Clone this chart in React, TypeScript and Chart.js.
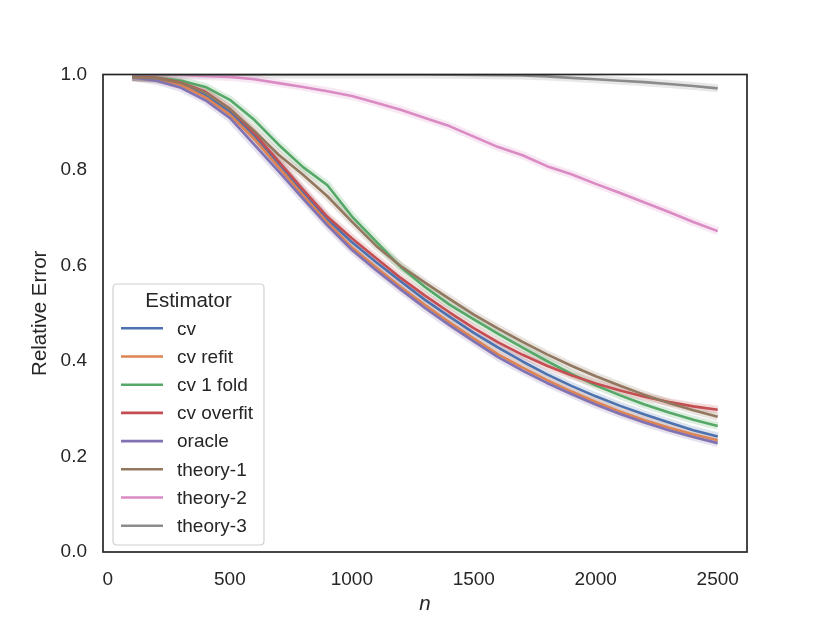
import React, { useEffect, useRef } from "react";
import { Chart, registerables } from "chart.js";

Chart.register(...registerables);

// ---- data ----
const nValues = [100, 200, 300, 400, 500, 600, 700, 800, 900, 1000, 1100, 1200, 1300, 1400, 1500, 1600, 1700, 1800, 1900, 2000, 2100, 2200, 2300, 2400, 2500];

const cv = [0.995, 0.991, 0.98, 0.956, 0.922, 0.872, 0.813, 0.754, 0.697, 0.649, 0.607, 0.567, 0.528, 0.493, 0.459, 0.428, 0.399, 0.372, 0.348, 0.326, 0.306, 0.288, 0.271, 0.255, 0.242];
const cvRefit = [0.995, 0.99, 0.978, 0.952, 0.916, 0.865, 0.806, 0.747, 0.69, 0.638, 0.596, 0.555, 0.517, 0.481, 0.447, 0.414, 0.386, 0.36, 0.336, 0.314, 0.294, 0.276, 0.26, 0.246, 0.234];
const cv1Fold = [0.995, 0.993, 0.987, 0.974, 0.947, 0.905, 0.853, 0.806, 0.768, 0.703, 0.65, 0.597, 0.555, 0.518, 0.487, 0.457, 0.428, 0.4, 0.373, 0.349, 0.328, 0.309, 0.292, 0.277, 0.264];
const cvOverfit = [0.995, 0.993, 0.983, 0.964, 0.928, 0.877, 0.818, 0.759, 0.702, 0.657, 0.615, 0.574, 0.537, 0.502, 0.469, 0.439, 0.413, 0.39, 0.37, 0.353, 0.338, 0.325, 0.314, 0.305, 0.298];
const oracle = [0.994, 0.987, 0.972, 0.946, 0.909, 0.853, 0.797, 0.74, 0.684, 0.633, 0.59, 0.55, 0.511, 0.475, 0.441, 0.408, 0.38, 0.354, 0.331, 0.309, 0.289, 0.271, 0.255, 0.241, 0.228];
const theory1 = [0.994, 0.992, 0.982, 0.962, 0.928, 0.882, 0.832, 0.79, 0.745, 0.692, 0.641, 0.599, 0.564, 0.53, 0.497, 0.468, 0.44, 0.414, 0.39, 0.368, 0.348, 0.329, 0.312, 0.297, 0.283];
const theory2 = [1.0, 0.9995, 0.999, 0.997, 0.995, 0.99, 0.982, 0.974, 0.965, 0.955, 0.941, 0.926, 0.909, 0.892, 0.87, 0.848, 0.831, 0.808, 0.791, 0.771, 0.752, 0.732, 0.712, 0.691, 0.672];
const theory3 = [1.0, 1.0, 1.0, 1.0, 1.0, 1.0, 1.0, 1.0, 1.0, 1.0, 1.0, 1.0, 1.0, 0.9995, 0.999, 0.9985, 0.998, 0.996, 0.993, 0.99, 0.987, 0.984, 0.98, 0.976, 0.971];

const seriesNames = ["cv", "cv refit", "cv 1 fold", "cv overfit", "oracle", "theory-1", "theory-2", "theory-3"];
const seriesValues = [cv, cvRefit, cv1Fold, cvOverfit, oracle, theory1, theory2, theory3];
const seriesColors = ["#4C72B0", "#DD8452", "#55A868", "#C44E52", "#8172B3", "#937860", "#DA8BC3", "#8C8C8C"];

const xTicks = [0, 500, 1000, 1500, 2000, 2500];
const yTicks = [0, 0.2, 0.4, 0.6, 0.8, 1.0];

const FONT = '"Liberation Sans", Arial, Helvetica, sans-serif';
const TEXT = "#262626";

function hexA(hex: string, a: number) {
  const r = parseInt(hex.slice(1, 3), 16);
  const g = parseInt(hex.slice(3, 5), 16);
  const b = parseInt(hex.slice(5, 7), 16);
  return `rgba(${r},${g},${b},${a})`;
}

const decorPlugin = {
  id: "decor",
  afterDatasetsDraw(chart: any) {
    const { ctx, chartArea: a } = chart;
    ctx.save();
    ctx.strokeStyle = TEXT;
    ctx.lineWidth = 1.7;
    ctx.strokeRect(a.left, a.top, a.right - a.left, a.bottom - a.top);
    ctx.restore();
  },
  afterDraw(chart: any) {
    const { ctx, chartArea: a } = chart;
    const bw = 151;
    const bh = 261;
    const bx = a.left + 10;
    const by = a.bottom - 7 - bh;
    ctx.save();
    ctx.beginPath();
    const r = 4;
    ctx.moveTo(bx + r, by);
    ctx.lineTo(bx + bw - r, by);
    ctx.quadraticCurveTo(bx + bw, by, bx + bw, by + r);
    ctx.lineTo(bx + bw, by + bh - r);
    ctx.quadraticCurveTo(bx + bw, by + bh, bx + bw - r, by + bh);
    ctx.lineTo(bx + r, by + bh);
    ctx.quadraticCurveTo(bx, by + bh, bx, by + bh - r);
    ctx.lineTo(bx, by + r);
    ctx.quadraticCurveTo(bx, by, bx + r, by);
    ctx.closePath();
    ctx.fillStyle = "rgba(255,255,255,0.8)";
    ctx.fill();
    ctx.strokeStyle = "#d0d0d0";
    ctx.lineWidth = 1.2;
    ctx.stroke();

    ctx.fillStyle = TEXT;
    ctx.textBaseline = "middle";
    ctx.textAlign = "center";
    ctx.font = `20.5px ${FONT}`;
    ctx.fillText("Estimator", bx + bw / 2, by + 17);

    ctx.textAlign = "left";
    ctx.font = `19px ${FONT}`;
    seriesNames.forEach((name, i) => {
      const y = by + 44.3 + i * 28.2;
      ctx.beginPath();
      ctx.moveTo(bx + 8, y);
      ctx.lineTo(bx + 50, y);
      ctx.strokeStyle = seriesColors[i];
      ctx.lineWidth = 2.6;
      ctx.stroke();
      ctx.fillStyle = TEXT;
      ctx.fillText(name, bx + 64, y + 1);
    });
    ctx.restore();
  },
};

export default function App() {
  const ref = useRef<HTMLCanvasElement | null>(null);

  useEffect(() => {
    if (!ref.current) return;
    const bands = seriesValues.map((vals, i) => ({
      label: seriesNames[i] + " band",
      data: nValues.map((n, j) => ({ x: n, y: vals[j] })),
      borderColor: hexA(seriesColors[i], 0.2),
      borderWidth: 8,
      pointRadius: 0,
      tension: 0,
      fill: false,
      borderJoinStyle: "round" as const,
      order: 200 - i,
    }));
    const lines = seriesValues.map((vals, i) => ({
      label: seriesNames[i],
      data: nValues.map((n, j) => ({ x: n, y: vals[j] })),
      borderColor: seriesColors[i],
      borderWidth: 2.6,
      pointRadius: 0,
      tension: 0,
      fill: false,
      borderJoinStyle: "round" as const,
      borderCapStyle: "butt" as const,
      order: 100 - i,
    }));

    const chart = new Chart(ref.current, {
      type: "line",
      data: { datasets: [...bands, ...lines] as any },
      options: {
        responsive: false,
        animation: false,
        parsing: false as any,
        layout: { padding: { left: 0, top: 74.5, right: 83, bottom: 0 } },
        plugins: {
          legend: { display: false },
          tooltip: { enabled: false },
          title: { display: false },
        },
        scales: {
          x: {
            type: "linear",
            min: -20,
            max: 2620,
            afterBuildTicks: (s: any) => {
              s.ticks = xTicks.map((v) => ({ value: v }));
            },
            afterFit: (s: any) => {
              s.height = 71;
            },
            grid: { display: false, drawTicks: false },
            border: { display: false },
            ticks: {
              padding: 16,
              color: TEXT,
              font: { family: FONT, size: 19 },
              maxRotation: 0,
              callback: (v: any) => String(v),
            },
            title: {
              display: true,
              text: "n",
              color: TEXT,
              font: { family: FONT, size: 20.5, style: "italic" },
              padding: { top: 0, bottom: 6 },
            },
          },
          y: {
            type: "linear",
            min: 0,
            max: 1,
            afterBuildTicks: (s: any) => {
              s.ticks = yTicks.map((v) => ({ value: v }));
            },
            afterFit: (s: any) => {
              s.width = 103;
            },
            grid: { display: false, drawTicks: false },
            border: { display: false },
            ticks: {
              padding: 16,
              color: TEXT,
              font: { family: FONT, size: 19 },
              callback: (v: any) => Number(v).toFixed(1),
            },
            title: {
              display: true,
              text: "Relative Error",
              color: TEXT,
              font: { family: FONT, size: 20.5 },
              padding: { top: 28, bottom: 0 },
            },
          },
        },
      },
      plugins: [decorPlugin],
    });
    return () => chart.destroy();
  }, []);

  return (
    <div style={{ position: "absolute", left: 0, top: 0, width: 830, height: 623, background: "#fff" }}>
      <canvas ref={ref} width={830} height={623} style={{ display: "block" }} />
    </div>
  );
}
